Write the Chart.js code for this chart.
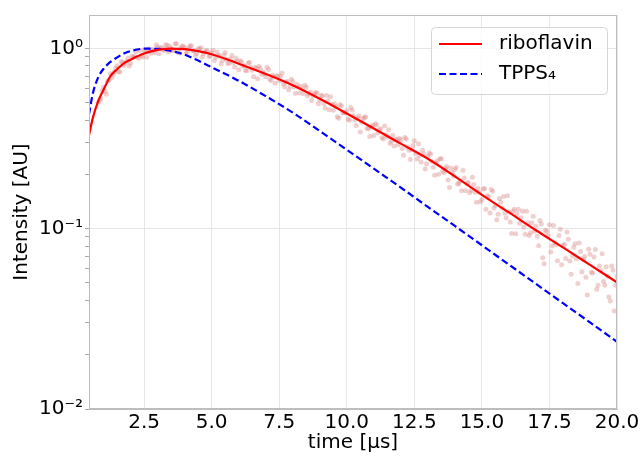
<!DOCTYPE html>
<html>
<head>
<meta charset="utf-8">
<script src="https://cdn.jsdelivr.net/npm/chart.js@4.4.1/dist/chart.umd.min.js"></script>
<style>
  html, body { margin: 0; padding: 0; background: #fff; }
</style>
</head>
<body>
<canvas id="myChart" width="643" height="456"></canvas>
<script>
// Fitted curves (time in microseconds, normalised intensity)
let fitTime = [0.46, 0.6, 0.8, 1.0, 1.25, 1.5, 1.75, 2.0, 2.5, 3.0, 3.5, 4.0, 4.5, 5, 6, 7, 8, 9, 10, 11, 12, 13, 14, 15, 16, 17, 18, 19, 20];
let riboflavinFit = [0.33, 0.41, 0.51, 0.59, 0.70, 0.765, 0.825, 0.865, 0.935, 0.98, 0.997, 0.99, 0.965, 0.927, 0.822, 0.721, 0.624, 0.525, 0.435, 0.359, 0.296, 0.244, 0.195, 0.154, 0.123, 0.098, 0.0787, 0.063, 0.0504];
let tppsFit = [0.43, 0.56, 0.69, 0.77, 0.84, 0.89, 0.935, 0.965, 0.995, 0.993, 0.966, 0.923, 0.855, 0.785, 0.661, 0.543, 0.440, 0.348, 0.274, 0.215, 0.169, 0.132, 0.1035, 0.0809, 0.0632, 0.0494, 0.0386, 0.0302, 0.0236];

// Measured riboflavin points, first half of the samples
let dataTime = [
  0.8, 0.9, 1.0, 1.1, 1.2, 1.3, 1.4, 1.5, 1.6, 1.7, 1.8, 1.9,
  2.0, 2.1, 2.2, 2.3, 2.4, 2.5, 2.6, 2.7, 2.8, 2.9,
  3.0, 3.1, 3.2, 3.3, 3.4, 3.5, 3.6, 3.7, 3.8, 3.9,
  4.0, 4.1, 4.2, 4.3, 4.4, 4.5, 4.6, 4.7, 4.8, 4.9,
  5.0, 5.1, 5.2, 5.3, 5.4, 5.5, 5.6, 5.7, 5.8, 5.9,
  6.0, 6.1, 6.2, 6.3, 6.4, 6.5, 6.6, 6.7, 6.8, 6.9,
  7.0, 7.1, 7.2, 7.3, 7.4, 7.5, 7.6, 7.7, 7.8, 7.9,
  8.0, 8.1, 8.2, 8.3, 8.4, 8.5, 8.6, 8.7, 8.8, 8.9,
  9.0, 9.1, 9.2, 9.3, 9.4, 9.5, 9.6, 9.7, 9.8, 9.9,
  10.0, 10.1, 10.2, 10.3, 10.4, 10.5, 10.6, 10.7, 10.8, 10.9,
  11.0, 11.1, 11.2, 11.3, 11.4, 11.5, 11.6, 11.7, 11.8, 11.9,
  12.0, 12.1, 12.2, 12.3, 12.4, 12.5, 12.6, 12.7, 12.8, 12.9,
  13.0, 13.1, 13.2, 13.3, 13.4, 13.5, 13.6, 13.7, 13.8, 13.9,
  14.0, 14.1, 14.2, 14.3, 14.4, 14.5, 14.6, 14.7, 14.8, 14.9,
  15.0, 15.1, 15.2, 15.3, 15.4, 15.5, 15.6, 15.7, 15.8, 15.9,
  16.0, 16.1, 16.2, 16.3, 16.4, 16.5, 16.6, 16.7, 16.8, 16.9,
  17.0, 17.1, 17.2, 17.3, 17.4, 17.5, 17.6, 17.7, 17.8, 17.9,
  18.0, 18.1, 18.2, 18.3, 18.4, 18.5, 18.6, 18.7, 18.8, 18.9,
  19.0, 19.1, 19.2, 19.3, 19.4, 19.5, 19.6, 19.7, 19.8, 19.9, 20.0
];
let dataIntensity = [
  0.500, 0.523, 0.609, 0.556, 0.665, 0.686, 0.742, 0.800, 0.739, 0.834, 0.827, 0.880,
  0.827, 0.893, 0.956, 0.881, 0.910, 0.980, 0.891, 0.961, 0.989, 0.948,
  1.018, 1.003, 0.983, 1.045, 0.954, 0.998, 0.977, 1.060, 0.942, 1.029,
  1.003, 0.953, 1.031, 0.966, 0.911, 0.987, 1.006, 0.934, 0.972, 0.900,
  0.946, 0.856, 0.955, 0.903, 0.857, 0.947, 0.824, 0.873, 0.834, 0.882,
  0.760, 0.843, 0.801, 0.751, 0.835, 0.755, 0.783, 0.679, 0.773, 0.742,
  0.696, 0.764, 0.662, 0.693, 0.704, 0.661, 0.730, 0.613, 0.655, 0.617,
  0.655, 0.564, 0.609, 0.616, 0.559, 0.609, 0.560, 0.514, 0.560, 0.563,
  0.515, 0.545, 0.467, 0.512, 0.538, 0.453, 0.475, 0.409, 0.481, 0.440,
  0.452, 0.399, 0.454, 0.400, 0.411, 0.344, 0.408, 0.417, 0.358, 0.366,
  0.329, 0.377, 0.354, 0.319, 0.371, 0.322, 0.297, 0.328, 0.310, 0.292,
  0.311, 0.255, 0.314, 0.272, 0.274, 0.307, 0.243, 0.254, 0.272, 0.214,
  0.252, 0.259, 0.219, 0.232, 0.200, 0.244, 0.204, 0.221, 0.169, 0.205,
  0.213, 0.177, 0.184, 0.211, 0.162, 0.180, 0.163, 0.176, 0.140, 0.159,
  0.145, 0.167, 0.152, 0.122, 0.161, 0.135, 0.120, 0.140, 0.151, 0.115,
  0.124, 0.094, 0.128, 0.121, 0.107, 0.125, 0.093, 0.108, 0.095, 0.117,
  0.103, 0.0805, 0.106, 0.0638, 0.0968, 0.105, 0.0802, 0.0838, 0.0663, 0.0994,
  0.0812, 0.0684, 0.0873, 0.0559, 0.0789, 0.0681, 0.0832, 0.0576, 0.0701, 0.0428,
  0.0721, 0.0567, 0.0766, 0.0485, 0.0585, 0.0509, 0.0613, 0.0418, 0.0620, 0.0350, 0.0544
];

// second half of the samples (in between the ones above)
let dataTimeB = [
  0.85, 0.95, 1.05, 1.15, 1.25, 1.35, 1.45, 1.55, 1.65, 1.75, 1.85, 1.95,
  2.05, 2.15, 2.25, 2.35, 2.45, 2.55, 2.65, 2.75, 2.85, 2.95,
  3.05, 3.15, 3.25, 3.35, 3.45, 3.55, 3.65, 3.75, 3.85, 3.95,
  4.05, 4.15, 4.25, 4.35, 4.45, 4.55, 4.65, 4.75, 4.85, 4.95,
  5.05, 5.15, 5.25, 5.35, 5.45, 5.55, 5.65, 5.75, 5.85, 5.95,
  6.05, 6.15, 6.25, 6.35, 6.45, 6.55, 6.65, 6.75, 6.85, 6.95,
  7.05, 7.15, 7.25, 7.35, 7.45, 7.55, 7.65, 7.75, 7.85, 7.95,
  8.05, 8.15, 8.25, 8.35, 8.45, 8.55, 8.65, 8.75, 8.85, 8.95,
  9.05, 9.15, 9.25, 9.35, 9.45, 9.55, 9.65, 9.75, 9.85, 9.95,
  10.05, 10.15, 10.25, 10.35, 10.45, 10.55, 10.65, 10.75, 10.85, 10.95,
  11.05, 11.15, 11.25, 11.35, 11.45, 11.55, 11.65, 11.75, 11.85, 11.95,
  12.05, 12.15, 12.25, 12.35, 12.45, 12.55, 12.65, 12.75, 12.85, 12.95,
  13.05, 13.15, 13.25, 13.35, 13.45, 13.55, 13.65, 13.75, 13.85, 13.95,
  14.05, 14.15, 14.25, 14.35, 14.45, 14.55, 14.65, 14.75, 14.85, 14.95,
  15.05, 15.15, 15.25, 15.35, 15.45, 15.55, 15.65, 15.75, 15.85, 15.95,
  16.05, 16.15, 16.25, 16.35, 16.45, 16.55, 16.65, 16.75, 16.85, 16.95,
  17.05, 17.15, 17.25, 17.35, 17.45, 17.55, 17.65, 17.75, 17.85, 17.95,
  18.05, 18.15, 18.25, 18.35, 18.45, 18.55, 18.65, 18.75, 18.85, 18.95,
  19.05, 19.15, 19.25, 19.35, 19.45, 19.55, 19.65, 19.75, 19.85, 19.95
];
let dataIntensityB = [
  0.513, 0.581, 0.577, 0.659, 0.722, 0.717, 0.774, 0.744, 0.844, 0.804, 0.845, 0.799,
  0.903, 0.900, 0.892, 0.969, 0.895, 0.951, 0.991, 0.939, 0.967, 1.045,
  0.934, 1.009, 0.973, 1.040, 1.028, 0.970, 1.061, 0.955, 1.002, 1.028,
  0.937, 1.003, 1.032, 0.968, 0.936, 0.998, 0.896, 0.957, 0.964, 0.909,
  0.977, 0.893, 0.914, 0.818, 0.914, 0.868, 0.828, 0.911, 0.787, 0.848,
  0.854, 0.798, 0.756, 0.828, 0.783, 0.696, 0.778, 0.793, 0.718, 0.722,
  0.784, 0.674, 0.709, 0.640, 0.700, 0.699, 0.637, 0.650, 0.590, 0.673,
  0.610, 0.632, 0.565, 0.593, 0.623, 0.545, 0.572, 0.544, 0.569, 0.493,
  0.547, 0.494, 0.547, 0.457, 0.489, 0.492, 0.417, 0.486, 0.439, 0.439,
  0.406, 0.470, 0.423, 0.373, 0.422, 0.389, 0.414, 0.360, 0.324, 0.375,
  0.381, 0.340, 0.358, 0.314, 0.331, 0.354, 0.305, 0.287, 0.313, 0.316,
  0.278, 0.320, 0.284, 0.242, 0.289, 0.261, 0.296, 0.234, 0.260, 0.229,
  0.263, 0.236, 0.198, 0.238, 0.244, 0.209, 0.216, 0.186, 0.217, 0.196,
  0.218, 0.178, 0.162, 0.191, 0.178, 0.158, 0.193, 0.159, 0.167, 0.141,
  0.166, 0.128, 0.150, 0.165, 0.130, 0.112, 0.147, 0.130, 0.122, 0.152,
  0.109, 0.125, 0.0937, 0.128, 0.115, 0.102, 0.125, 0.0915, 0.108, 0.0966,
  0.0907, 0.111, 0.0690, 0.0980, 0.0915, 0.0742, 0.104, 0.0816, 0.0915, 0.0630,
  0.0816, 0.0957, 0.0662, 0.0705, 0.0826, 0.0496, 0.0746, 0.0677, 0.0537, 0.0769,
  0.0573, 0.0697, 0.0462, 0.0620, 0.0725, 0.0486, 0.0545, 0.0397, 0.0588, 0.0486
];

// Axis ticks
let xTicks = [2.5, 5.0, 7.5, 10.0, 12.5, 15.0, 17.5, 20.0];
let yMajorTicks = [0.01, 0.1, 1];
let yMajorLabels = ['10\u207B\u00B2', '10\u207B\u00B9', '10\u2070'];
let yMinorTicks = [0.02, 0.03, 0.04, 0.05, 0.06, 0.07, 0.08, 0.09, 0.2, 0.3, 0.4, 0.5, 0.6, 0.7, 0.8, 0.9];

let canvas = document.getElementById('myChart').getContext('2d');

Chart.defaults.font.family = "'DejaVu Sans', sans-serif";
Chart.defaults.font.size = 20;
Chart.defaults.color = '#000';

function isMajor(v) {
    return yMajorTicks.some(m => Math.abs(m - v) / m < 1e-6);
}

function toPoints(xs, ys) {
    return xs.map((x, i) => ({ x: x, y: ys[i] }));
}

// frame on all four sides
const framePlugin = {
    id: 'frame',
    afterDatasetsDraw(chart) {
        let a = chart.chartArea;
        let ctx = chart.ctx;
        ctx.save();
        ctx.strokeStyle = '#bdbdbd';
        ctx.lineWidth = 1;
        ctx.strokeRect(a.left + 0.5, a.top + 0.5, a.right - a.left - 1, a.bottom - a.top - 1);
        ctx.restore();
    }
};

// legend box drawn inside the plot, top right
const insideLegend = {
    id: 'insideLegend',
    afterDraw(chart) {
        let ctx = chart.ctx;
        let items = chart.data.datasets.filter(d => d.inLegend);
        let x = 431, y = 27, w = 176, h = 67;
        ctx.save();
        ctx.beginPath();
        ctx.roundRect(x + 0.5, y + 0.5, w, h, 4);
        ctx.fillStyle = 'rgba(255,255,255,0.8)';
        ctx.fill();
        ctx.strokeStyle = '#d6d6d6';
        ctx.lineWidth = 1;
        ctx.stroke();
        ctx.font = "20px 'DejaVu Sans'";
        ctx.textBaseline = 'middle';
        ctx.textAlign = 'left';
        items.forEach((d, i) => {
            let ly = 44 + i * 30;
            ctx.beginPath();
            ctx.setLineDash(d.borderDash || []);
            ctx.strokeStyle = d.borderColor;
            ctx.lineWidth = d.borderWidth;
            ctx.moveTo(439, ly);
            ctx.lineTo(482, ly);
            ctx.stroke();
            ctx.setLineDash([]);
            ctx.fillStyle = '#000';
            ctx.fillText(d.label, 499, ly);
        });
        ctx.restore();
    }
};

let myChart = new Chart(canvas, {
    type: 'scatter',
    data: {
        datasets: [
            {
                label: 'riboflavin',
                inLegend: true,
                data: toPoints(fitTime, riboflavinFit),
                showLine: true,
                borderColor: '#ff0000',
                borderWidth: 2.2,
                pointRadius: 0,
                cubicInterpolationMode: 'monotone',
                order: 1
            },
            {
                label: 'TPPS\u2084',
                inLegend: true,
                data: toPoints(fitTime, tppsFit),
                showLine: true,
                borderColor: '#0000ff',
                borderWidth: 2.2,
                borderDash: [7, 3.5],
                pointRadius: 0,
                cubicInterpolationMode: 'monotone',
                order: 2
            },
            {
                label: 'data',
                data: toPoints(dataTime, dataIntensity).concat(toPoints(dataTimeB, dataIntensityB)),
                backgroundColor: 'rgba(220, 140, 140, 0.42)',
                borderWidth: 0,
                pointRadius: 2.5,
                order: 3
            }
        ]
    },
    options: {
        responsive: false,
        animation: false,
        layout: { padding: { top: 15, right: 26, left: 0, bottom: 0 } },
        plugins: {
            legend: { display: false },
            tooltip: { enabled: false }
        },
        scales: {
            x: {
                type: 'linear',
                min: 0.46,
                max: 20,
                afterBuildTicks: s => { s.ticks = xTicks.map(v => ({ value: v })); },
                afterFit: s => { s.height = 47; },
                ticks: {
                    padding: 2,
                    maxRotation: 0,
                    autoSkip: false,
                    callback: v => v.toFixed(1)
                },
                grid: { color: '#e6e6e6', drawTicks: false },
                border: { color: '#bdbdbd' },
                title: {
                    display: true,
                    text: 'time [\u03BCs]',
                    padding: { top: 0, bottom: 1 }
                }
            },
            y: {
                type: 'logarithmic',
                min: 0.01,
                max: 1.53,
                afterBuildTicks: s => {
                    s.ticks = yMajorTicks.concat(yMinorTicks).sort((a, b) => a - b).map(v => ({ value: v, major: isMajor(v) }));
                },
                afterFit: s => { s.width = 89; },
                ticks: {
                    padding: 2,
                    autoSkip: false,
                    callback: v => {
                        let i = yMajorTicks.findIndex(m => Math.abs(m - v) / m < 1e-6);
                        return i >= 0 ? yMajorLabels[i] : '';
                    }
                },
                grid: {
                    color: ctx => (ctx.tick && isMajor(ctx.tick.value)) ? '#e6e6e6' : 'rgba(0,0,0,0)',
                    tickColor: '#aaaaaa',
                    tickLength: 4
                },
                border: { color: '#bdbdbd' },
                title: {
                    display: true,
                    text: 'Intensity [AU]',
                    padding: { top: 10, bottom: 0 }
                }
            }
        }
    },
    plugins: [framePlugin, insideLegend]
});
</script>
</body>
</html>
